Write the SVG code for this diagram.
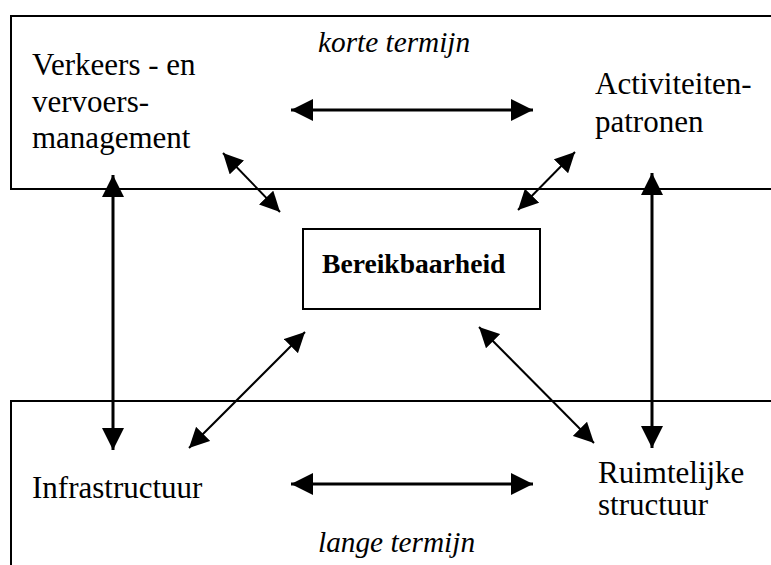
<svg xmlns="http://www.w3.org/2000/svg" width="771" height="565" viewBox="0 0 771 565">
<style>
.frame{fill:none;stroke:#000;stroke-width:2}
.t{font-family:"Liberation Serif","Times New Roman",serif;font-size:31px;fill:#000}
.i{font-family:"Liberation Serif","Times New Roman",serif;font-size:29.3px;font-style:italic;fill:#000}
.b{font-family:"Liberation Serif","Times New Roman",serif;font-size:27.6px;font-weight:bold;fill:#000}
.thick{stroke:#000;stroke-width:3;fill:none;marker-start:url(#ah);marker-end:url(#ah)}
.thin{stroke:#000;stroke-width:2;fill:none;marker-start:url(#as);marker-end:url(#as)}
</style>
<defs>
<marker id="ah" markerUnits="userSpaceOnUse" markerWidth="22" markerHeight="22" refX="22" refY="11" orient="auto-start-reverse"><path d="M0,0 L22,11 L0,22 z" fill="#000"/></marker>
<marker id="as" markerUnits="userSpaceOnUse" markerWidth="20" markerHeight="20" refX="20" refY="10" orient="auto-start-reverse"><path d="M0,0 L20,10 L0,20 z" fill="#000"/></marker>
</defs>
<rect width="771" height="565" fill="#fff"/>
<g id="short-term">
<rect class="frame" x="11" y="16" width="780" height="173"/>
<text class="i" x="318" y="52">korte termijn</text>
</g>
<g id="long-term">
<rect class="frame" x="11" y="401" width="780" height="200"/>
<text class="i" x="318" y="552">lange termijn</text>
</g>
<g id="verkeer">
<text class="t" x="32" y="75">Verkeers - en</text>
<text class="t" x="32" y="112">vervoers-</text>
<text class="t" x="32" y="148">management</text>
</g>
<g id="activiteiten">
<text class="t" x="595" y="94">Activiteiten-</text>
<text class="t" x="595" y="132">patronen</text>
</g>
<g id="bereikbaarheid">
<rect class="frame" x="303" y="229" width="237" height="80"/>
<text class="b" x="322" y="273">Bereikbaarheid</text>
</g>
<g id="infrastructuur">
<text class="t" x="32" y="498">Infrastructuur</text>
</g>
<g id="ruimtelijke">
<text class="t" x="598" y="483">Ruimtelijke</text>
<text class="t" x="598" y="515">structuur</text>
</g>
<g id="connectors">
<line class="thick" x1="291" y1="110" x2="533" y2="110"/>
<line class="thick" x1="291" y1="484" x2="533" y2="484"/>
<line class="thick" x1="113" y1="175" x2="113" y2="450"/>
<line class="thick" x1="652" y1="173" x2="652" y2="448"/>
<line class="thin" x1="223" y1="153" x2="280" y2="212"/>
<line class="thin" x1="575" y1="152" x2="518" y2="210"/>
<line class="thin" x1="305" y1="332" x2="189" y2="448"/>
<line class="thin" x1="479" y1="327" x2="594" y2="443"/>
</g>
</svg>
